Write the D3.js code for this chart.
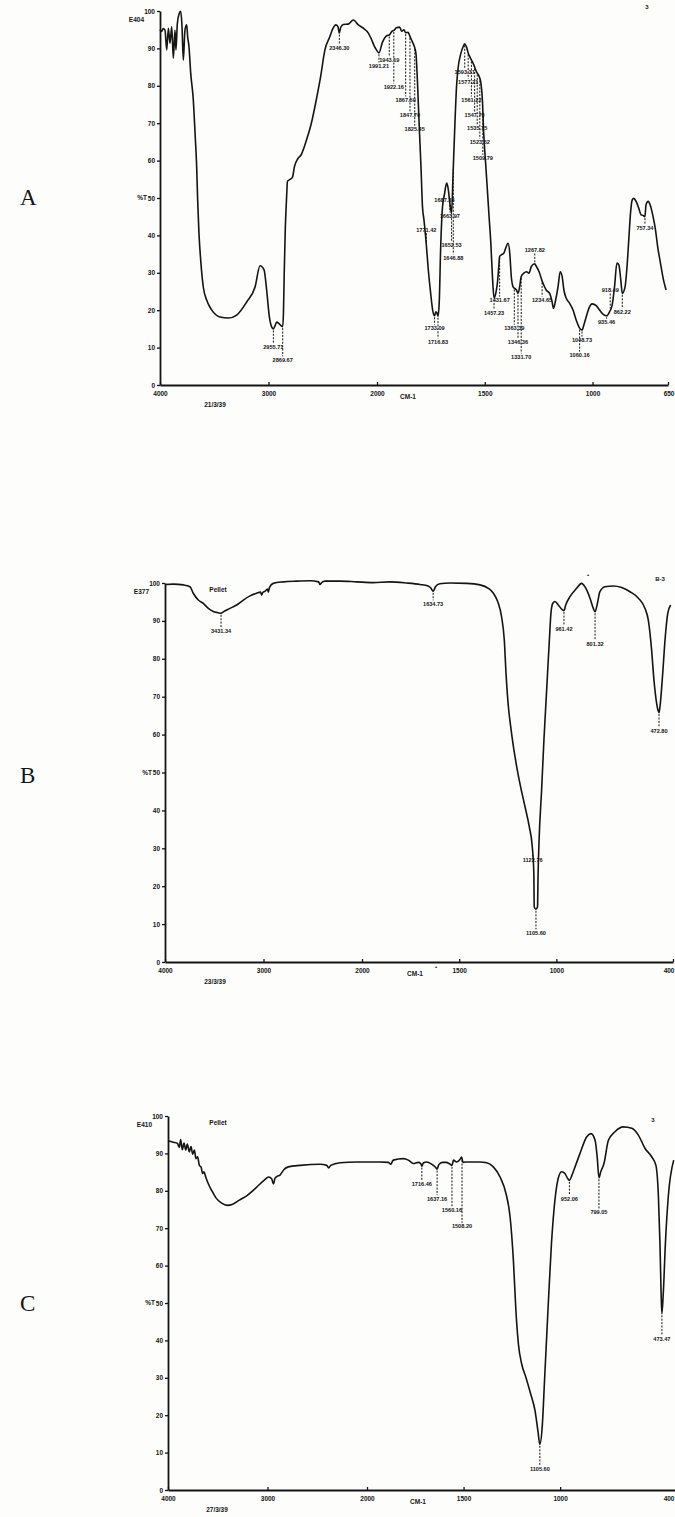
<!DOCTYPE html>
<html>
<head>
<meta charset="utf-8">
<script src="https://cdn.jsdelivr.net/npm/d3@7"></script>
<style>
  body { margin: 0; background: #fff; }
  svg { display: block; }
</style>
</head>
<body>
<script>
// ---- Data: three IR transmission spectra (%T against wavenumber, cm-1) ----
const panelLetters = ["A", "B", "C"];
const sampleCodes = ["E404", "E377", "E410"];
const runDates = ["21/3/39", "23/3/39", "27/3/39"];
const sampleModes = ["", "Pellet", "Pellet"];
const transmittanceTicks = [0, 10, 20, 30, 40, 50, 60, 70, 80, 90, 100];
const wavenumberTicksA = [4000, 3000, 2000, 1500, 1000, 650];
const wavenumberTicksBC = [4000, 3000, 2000, 1500, 1000, 400];

const spectrumA = [
  [4000,95.0],[3985,94.5],[3970,95.3],[3954,94.9],[3938,89.6],[3923,95.4],[3908,91.4],[3892,95.8],
  [3877,87.4],[3862,94.9],[3853,89.6],[3840,96.7],[3822,99.4],[3809,99.9],[3797,95.8],[3785,86.9],
  [3770,94.9],[3754,96.3],[3745,93.1],[3733,90.5],[3717,83.4],[3693,76.2],[3677,67.4],[3662,58.3],
  [3653,49.5],[3641,40.6],[3625,33.4],[3601,26.2],[3570,22.7],[3524,20.1],[3447,18.2],[3370,17.9],
  [3293,18.7],[3201,22.2],[3124,26.2],[3078,31.9],[3041,30.8],[3017,25.4],[2992,18.2],[2972,15.6],
  [2955,15.0],[2940,15.8],[2925,16.8],[2905,16.5],[2885,15.9],[2869,15.6],[2862,19.5],[2855,30.0],
  [2845,42.0],[2835,49.0],[2825,54.5],[2800,55.0],[2780,55.5],[2760,58.5],[2730,60.5],[2700,61.5],
  [2650,65.5],[2605,70.0],[2560,76.2],[2520,82.4],[2480,89.6],[2435,93.1],[2405,95.4],[2380,96.3],
  [2360,95.8],[2347,94.1],[2335,95.6],[2310,96.4],[2265,96.5],[2218,97.6],[2172,96.3],[2126,95.4],
  [2080,94.1],[2049,92.3],[2025,90.6],[2005,89.6],[1991,88.8],[1975,91.6],[1955,93.4],[1943,93.6],
  [1930,94.6],[1922,94.8],[1910,95.5],[1895,95.7],[1885,94.6],[1875,95.0],[1867,94.2],[1856,94.3],
  [1847,93.2],[1838,92.0],[1830,91.0],[1825,90.2],[1819,88.5],[1812,80.7],[1804,69.1],[1796,58.4],
  [1789,47.7],[1782,44.1],[1773,38.8],[1762,30.8],[1751,24.5],[1742,20.1],[1733,18.5],[1727,19.6],
  [1722,19.3],[1717,18.4],[1711,22.5],[1705,36.0],[1696,47.7],[1687,51.0],[1677,54.0],[1670,52.6],
  [1662,48.6],[1654,45.9],[1647,56.6],[1639,69.1],[1631,79.8],[1623,85.1],[1613,88.2],[1600,90.5],
  [1593,91.2],[1585,90.4],[1577,88.8],[1568,87.6],[1562,86.9],[1551,85.6],[1547,85.0],[1539,83.8],
  [1535,83.4],[1526,82.5],[1518,80.7],[1511,76.2],[1505,67.3],[1495,58.4],[1488,52.2],[1480,45.0],
  [1472,38.0],[1464,28.5],[1457,23.2],[1449,24.5],[1441,27.5],[1435,31.7],[1431,34.4],[1423,34.8],
  [1412,35.2],[1403,36.6],[1392,37.9],[1384,35.2],[1377,29.0],[1369,26.3],[1363,25.9],[1353,25.4],
  [1346,24.5],[1338,26.3],[1331,29.0],[1319,29.9],[1307,30.3],[1295,29.9],[1284,31.7],[1268,32.4],
  [1261,31.7],[1248,30.3],[1238,28.5],[1234,27.8],[1227,26.8],[1215,25.4],[1199,24.5],[1188,22.3],
  [1181,20.5],[1171,22.8],[1160,26.3],[1150,30.3],[1141,29.0],[1133,25.4],[1122,23.2],[1107,21.9],
  [1091,20.1],[1076,17.4],[1060,15.2],[1049,14.7],[1040,16.1],[1029,18.3],[1017,20.5],[1002,21.7],
  [983,21.2],[968,20.1],[949,18.8],[935,18.5],[921,19.6],[909,21.4],[898,26.3],[887,32.6],
  [878,32.1],[869,28.1],[862,24.5],[849,26.3],[840,31.7],[832,38.8],[824,45.9],[816,49.5],
  [809,49.9],[798,49.1],[786,47.3],[775,45.5],[764,45.3],[757,45.0],[752,48.2],[742,49.1],
  [733,48.2],[721,45.5],[708,41.5],[698,37.0],[685,32.6],[671,28.1],[659,25.4]
];

const spectrumB = [
  [4000,99.6],[3915,99.7],[3814,99.5],[3746,99.0],[3713,97.3],[3662,95.5],[3611,94.6],[3560,93.3],
  [3510,92.5],[3470,92.2],[3431,92.0],[3408,92.4],[3340,93.3],[3273,94.2],[3205,95.5],[3137,96.6],
  [3070,97.3],[3030,97.6],[3019,96.8],[3005,97.6],[2985,97.8],[2960,98.4],[2951,97.6],[2940,98.8],
  [2901,99.9],[2799,100.3],[2664,100.5],[2528,100.6],[2440,100.3],[2427,99.6],[2410,100.1],[2376,100.5],
  [2224,100.5],[2055,100.3],[1943,100.1],[1856,100.3],[1770,100.0],[1701,99.6],[1660,99.2],[1645,98.6],
  [1634,97.8],[1622,99.0],[1600,99.8],[1547,100.0],[1461,99.9],[1393,99.5],[1350,98.6],[1324,97.3],
  [1302,95.1],[1282,91.1],[1268,85.0],[1259,76.1],[1247,67.4],[1235,62.1],[1221,56.8],[1204,51.5],
  [1184,46.2],[1161,40.9],[1139,35.6],[1124,30.4],[1116,23.4],[1114,14.6],[1105,13.9],[1097,14.6],
  [1094,23.4],[1089,32.1],[1076,45.4],[1064,58.6],[1050,71.8],[1036,85.0],[1028,92.0],[1019,94.6],
  [1007,95.1],[990,94.2],[975,93.2],[961,92.7],[952,94.2],[930,96.4],[896,98.6],[870,99.9],
  [853,99.0],[827,96.0],[810,93.3],[801,92.4],[789,94.6],[776,97.7],[750,99.0],[707,99.2],
  [664,98.8],[621,97.7],[578,96.0],[544,93.3],[527,90.2],[510,82.3],[498,74.4],[484,68.2],
  [476,66.2],[472,65.8],[467,67.4],[453,76.1],[441,85.0],[427,92.0],[412,94.2]
];

const spectrumC = [
  [4000,93.4],[3946,93.0],[3906,92.7],[3886,91.6],[3873,93.7],[3856,91.0],[3839,92.8],[3822,90.9],
  [3806,92.5],[3786,90.4],[3769,91.8],[3752,89.8],[3735,90.9],[3719,88.6],[3702,89.1],[3685,86.8],
  [3668,86.4],[3652,84.6],[3638,85.1],[3621,83.7],[3595,81.9],[3561,80.1],[3518,78.1],[3461,76.7],
  [3404,76.1],[3350,76.4],[3283,77.5],[3203,78.8],[3116,80.8],[3035,82.8],[2988,83.7],[2958,83.2],
  [2940,81.8],[2925,83.3],[2901,83.9],[2874,84.2],[2858,84.8],[2834,85.7],[2791,86.4],[2673,86.8],
  [2472,87.1],[2405,86.8],[2385,86.1],[2365,86.8],[2271,87.5],[2104,87.7],[2003,87.7],[1933,87.7],
  [1890,87.6],[1877,87.1],[1864,88.2],[1812,88.6],[1786,88.2],[1760,87.3],[1735,87.6],[1722,87.3],
  [1716,86.6],[1708,87.5],[1691,87.7],[1665,87.1],[1645,86.3],[1637,85.8],[1628,87.0],[1610,87.6],
  [1590,87.6],[1572,87.2],[1560,86.8],[1552,88.2],[1536,87.7],[1520,88.3],[1510,89.0],[1503,87.6],
  [1493,87.7],[1458,87.7],[1415,87.7],[1380,87.5],[1346,86.4],[1311,83.7],[1280,79.2],[1259,73.0],
  [1242,61.4],[1229,48.0],[1216,39.0],[1199,33.7],[1177,30.1],[1152,25.6],[1130,21.2],[1115,15.8],
  [1105,12.2],[1093,16.7],[1080,30.1],[1063,48.0],[1045,65.8],[1025,78.4],[1008,83.7],[992,85.1],
  [975,84.6],[962,83.4],[952,82.8],[940,84.0],[920,86.8],[897,90.0],[863,94.4],[840,95.3],
  [819,93.5],[808,89.0],[799,83.5],[790,85.0],[773,87.3],[750,93.5],[716,95.8],[673,97.1],
  [629,96.7],[595,94.9],[560,91.3],[526,89.1],[504,86.8],[491,78.4],[483,65.8],[477,52.4],
  [473,47.1],[466,52.4],[455,65.8],[440,78.4],[412,88.2]
];

// Peak annotations: [wavenumber, printed value, %T level of the printed value]
const peaksA = [
  [2955,"2955.71",10.2],[2869,"2869.67",6.7],[2347,"2346.30",90.1],
  [1991,"1991.21",85.3],[1943,"1943.19",86.9],[1922,"1922.16",79.7],[1867,"1867.50",76.2],
  [1847,"1847.70",72.2],[1825,"1825.45",68.4],[1771,"1771.42",41.5],
  [1733,"1733.09",15.2],[1717,"1716.83",11.5],
  [1687,"1687.33",49.5],[1662,"1663.97",45.2],[1654,"1652.53",37.4],[1646,"1646.88",34.0],
  [1593,"1593.31",83.7],[1577,"1577.21",81.0],[1562,"1561.22",76.2],[1547,"1547.70",72.2],
  [1535,"1535.75",68.7],[1523,"1523.52",64.9],[1509,"1509.79",60.6],
  [1457,"1457.23",19.3],[1431,"1431.67",22.7],
  [1363,"1363.39",15.2],[1346,"1346.36",11.5],[1331,"1331.70",7.5],
  [1268,"1267.82",36.1],[1234,"1234.65",22.7],
  [1060,"1060.16",8.0],[1049,"1048.73",12.0],
  [935,"935.46",16.8],[918,"918.49",25.4],[862,"862.22",19.5],[757,"757.34",42.0]
];
const peaksB = [
  [3431,"3431.34",87.4],[1634,"1634.73",94.5],[1122,"1122.76",26.9],[1105,"1105.60",7.7],
  [961,"961.42",87.9],[801,"801.32",83.9],[472,"472.80",61.0]
];
const peaksC = [
  [1716,"1716.46",81.9],[1637,"1637.16",77.9],[1560,"1560.16",74.8],[1508,"1508.20",70.5],
  [1105,"1105.60",5.5],[952,"952.06",77.9],[799,"799.05",74.3],[473,"473.47",40.4]
];

// ---- Layout of the three stacked plots ----
const W = 675, H = 1517;
const frames = [
  { spectrum: spectrumA, peaks: peaksA, ticks: wavenumberTicksA,
    xDomain: [4000, 2000, 650], xRange: [160, 377, 668], yRange: [385, 11],
    letterY: 205, dateX: 215, cmX: 408, marks: [{ text: "3", x: 647, y: 9 }] },
  { spectrum: spectrumB, peaks: peaksB, ticks: wavenumberTicksBC,
    xDomain: [4000, 2000, 400], xRange: [165, 362, 673], yRange: [962, 583],
    letterY: 783, dateX: 215, cmX: 415,
    marks: [{ text: "B-3", x: 660, y: 581 }, { text: "•", x: 588, y: 577 }, { text: "•", x: 436, y: 969 }] },
  { spectrum: spectrumC, peaks: peaksC, ticks: wavenumberTicksBC,
    xDomain: [4000, 2000, 400], xRange: [168, 367, 676], yRange: [1490, 1116],
    letterY: 1311, dateX: 217, cmX: 418, marks: [{ text: "3", x: 653, y: 1122 }] }
];

const ink = "#141414";
const tickFont = "'Liberation Sans', Arial, sans-serif";

const svg = d3.select("body").append("svg")
  .attr("width", W).attr("height", H).attr("viewBox", `0 0 ${W} ${H}`);
svg.append("rect").attr("width", W).attr("height", H).attr("fill", "#fdfdfc");

// linear interpolation of %T at a given wavenumber
function valueAt(s, wn) {
  for (let i = 0; i < s.length - 1; i++) {
    const [w0, t0] = s[i], [w1, t1] = s[i + 1];
    if (wn <= w0 && wn >= w1) return t0 + (t1 - t0) * (w0 - wn) / (w0 - w1);
  }
  return s[s.length - 1][1];
}

frames.forEach((f, i) => {
  const x = d3.scaleLinear().domain(f.xDomain).range(f.xRange);
  const y = d3.scaleLinear().domain([0, 100]).range(f.yRange);
  const g = svg.append("g");

  // y axis
  const yAxis = g.append("g")
    .attr("transform", `translate(${f.xRange[0]},0)`)
    .call(d3.axisLeft(y).tickValues(transmittanceTicks).tickSize(3).tickSizeOuter(0).tickPadding(2));
  // x axis (plain integer wavenumbers)
  const xAxis = g.append("g")
    .attr("transform", `translate(0,${f.yRange[0]})`)
    .call(d3.axisBottom(x).tickValues(f.ticks).tickFormat(d3.format("d"))
      .tickSize(-3).tickSizeOuter(0).tickPadding(6));
  [yAxis, xAxis].forEach(a => {
    a.select(".domain").attr("stroke", ink).attr("stroke-width", 1.8);
    a.selectAll(".tick line").attr("stroke", ink).attr("stroke-width", 1.3);
    a.selectAll(".tick text")
      .attr("fill", ink).style("font-family", tickFont)
      .style("font-size", "6.5px").style("font-weight", "bold");
  });
  // keep the last wavenumber label inside the page edge
  xAxis.selectAll(".tick text")
    .filter(d => x(d) + 8 > W)
    .attr("text-anchor", "end")
    .attr("dx", d => (W - 1 - x(d)) + "px");

  // %T tag beside the 50 tick
  g.append("text")
    .attr("x", f.xRange[0] - 13).attr("y", y(50)).attr("dy", "0.32em")
    .attr("text-anchor", "end").attr("fill", ink)
    .style("font-family", tickFont).style("font-size", "6.5px").style("font-weight", "bold")
    .text("%T");

  // sample code, mode, run date, unit
  const small = (t, px, py, anchor = "start", size = 6.5) => g.append("text")
    .attr("x", px).attr("y", py).attr("text-anchor", anchor).attr("fill", ink)
    .style("font-family", tickFont).style("font-size", size + "px").style("font-weight", "bold")
    .text(t);
  small(sampleCodes[i], f.xRange[0] - 16, y(97), "end");
  if (sampleModes[i]) small(sampleModes[i], 218, y(97.5), "middle");
  small(runDates[i], f.dateX, f.yRange[0] + 22, "middle");
  small("CM-1", f.cmX, f.yRange[0] + 14, "middle");
  f.marks.forEach(m => small(m.text, m.x, m.y, "middle", 6));

  // panel letter
  g.append("text")
    .attr("x", 20).attr("y", f.letterY)
    .attr("fill", ink)
    .style("font-family", "'Liberation Serif', 'DejaVu Serif', serif")
    .style("font-size", "23px")
    .text(panelLetters[i]);

  // spectrum trace
  const line = d3.line()
    .x(d => x(d[0])).y(d => y(d[1]))
    .curve(d3.curveMonotoneX);
  g.append("path")
    .datum(f.spectrum)
    .attr("d", line)
    .attr("fill", "none")
    .attr("stroke", ink)
    .attr("stroke-width", 1.6)
    .attr("stroke-linejoin", "round");

  // peak leaders and values
  f.peaks.forEach(([wn, label, level]) => {
    const cv = valueAt(f.spectrum, wn);
    const px = x(wn);
    let y1, y2;
    if (level < cv) { y1 = y(cv) + 1.5; y2 = y(level) - 3.5; }
    else { y1 = y(level) + 3.5; y2 = y(cv) - 1.5; }
    if (y2 > y1) {
      g.append("line")
        .attr("x1", px).attr("x2", px).attr("y1", y1).attr("y2", y2)
        .attr("stroke", ink).attr("stroke-width", 1)
        .attr("stroke-dasharray", "2,1.4");
    }
    g.append("text")
      .attr("x", px).attr("y", y(level)).attr("dy", "0.35em")
      .attr("text-anchor", "middle").attr("fill", ink)
      .style("font-family", tickFont).style("font-size", "5.6px").style("font-weight", "bold")
      .text(label);
  });
});
</script>
</body>
</html>
